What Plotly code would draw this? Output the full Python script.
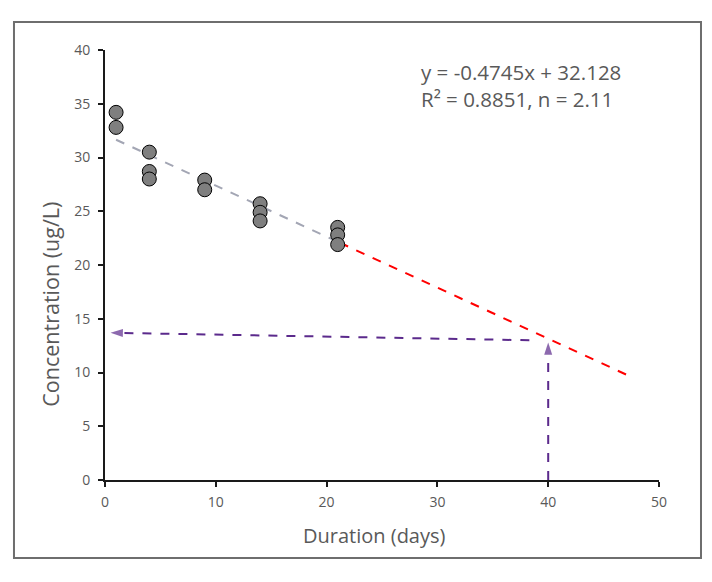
import plotly.graph_objects as go

# ---- data ----
days = [1, 1, 4, 4, 4, 9, 9, 14, 14, 14, 21, 21, 21]
conc = [34.2, 32.8, 30.5, 28.7, 28.0, 27.9, 27.0, 25.7, 24.9, 24.1, 23.5, 22.8, 21.9]

slope = -0.4745
intercept = 32.128
fit_x = [1, 21.2]
extrap_x = [21.2, 47.1]

arrow_v_x = [40, 40]
arrow_v_y = [0, 12.8]
arrow_h_x = [38.3, 0.5]
arrow_h_y = [13.0, 13.7]

eq_lines = ["y = -0.4745x + 32.128", "R\u00b2 = 0.8851, n = 2.11"]
x_title = "Duration (days)"
y_title = "Concentration (ug/L)"

x_ticks = [0, 10, 20, 30, 40, 50]
y_ticks = [0, 5, 10, 15, 20, 25, 30, 35, 40]

FONT = "Open Sans"
GREY_TXT = "#595959"
PURPLE = "#5b2a8c"

fig = go.Figure()

# regression line (fitted range)
fig.add_trace(go.Scatter(
    x=fit_x, y=[slope * v + intercept for v in fit_x],
    mode="lines", line=dict(color="#a3a6b4", width=2, dash="dash"),
    hoverinfo="skip", showlegend=False))

# extrapolation
fig.add_trace(go.Scatter(
    x=extrap_x, y=[slope * v + intercept for v in extrap_x],
    mode="lines", line=dict(color="#ff0000", width=2, dash="dash"),
    hoverinfo="skip", showlegend=False))

# arrows
for ax_, ay_ in [(arrow_v_x, arrow_v_y), (arrow_h_x, arrow_h_y)]:
    fig.add_trace(go.Scatter(
        x=ax_, y=ay_, mode="lines+markers",
        line=dict(color=PURPLE, width=2, dash="dash"),
        marker=dict(symbol="arrow", size=[0, 13], angleref="previous",
                    color=PURPLE, line=dict(width=0)),
        hoverinfo="skip", showlegend=False))

# data points
fig.add_trace(go.Scatter(
    x=days, y=conc, mode="markers",
    marker=dict(size=14, color="#7f7f7f", line=dict(color="#000000", width=1)),
    showlegend=False))

fig.add_annotation(x=28.3, y=37.95, xref="x", yref="y", text=eq_lines[0],
                   showarrow=False, xanchor="left", yanchor="middle",
                   font=dict(family=FONT, size=20.5, color=GREY_TXT))
fig.add_annotation(x=28.3, y=35.44, xref="x", yref="y", text=eq_lines[1],
                   showarrow=False, xanchor="left", yanchor="middle",
                   font=dict(family=FONT, size=20.5, color=GREY_TXT))

# axis titles
fig.add_annotation(x=0.4856, y=-0.128, xref="paper", yref="paper", text=x_title,
                   showarrow=False, xanchor="center", yanchor="middle",
                   font=dict(family=FONT, size=20, color=GREY_TXT))
fig.add_annotation(x=-0.0975, y=0.41, xref="paper", yref="paper", text=y_title,
                   showarrow=False, xanchor="center", yanchor="middle", textangle=-90,
                   font=dict(family=FONT, size=21.5, color=GREY_TXT))

# outer border
fig.add_shape(type="rect", xref="paper", yref="paper",
              x0=-0.1643, x1=1.0758, y0=-0.1814, y1=1.0651,
              line=dict(color="#6e6e6e", width=2), layer="below")

fig.update_layout(
    width=712, height=582,
    margin=dict(l=105, r=53, t=50, b=102),
    paper_bgcolor="white", plot_bgcolor="white",
    font=dict(family=FONT, color=GREY_TXT),
)
fig.update_xaxes(
    range=[0, 50], tickvals=x_ticks, showgrid=False, zeroline=False,
    showline=True, linecolor="#1a1a1a", linewidth=2,
    ticks="outside", ticklen=5, tickcolor="#1a1a1a", tickwidth=2,
    ticklabelstandoff=3,
    tickfont=dict(family=FONT, size=14, color=GREY_TXT),
)
fig.update_yaxes(
    range=[0, 40], tickvals=y_ticks, showgrid=False, zeroline=False,
    showline=True, linecolor="#1a1a1a", linewidth=2,
    ticks="outside", ticklen=5, tickcolor="#1a1a1a", tickwidth=2,
    ticklabelstandoff=5,
    tickfont=dict(family=FONT, size=14, color=GREY_TXT),
)

fig.write_html("out.html")
